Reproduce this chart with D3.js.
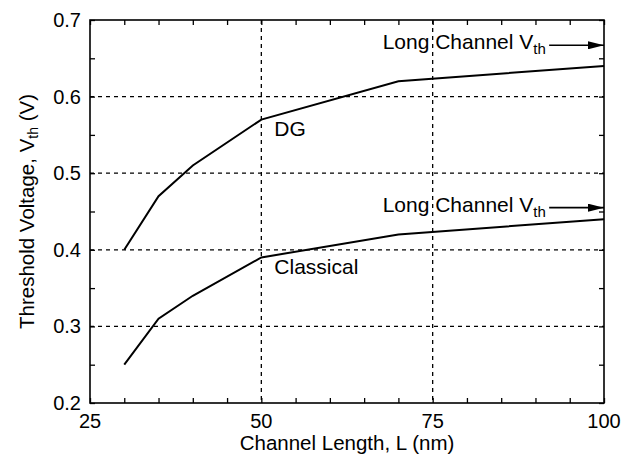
<!DOCTYPE html>
<html>
<head>
<meta charset="utf-8">
<script src="https://cdn.jsdelivr.net/npm/d3@7"></script>
<style>
  body { margin: 0; background: #fff; }
  svg { display: block; font-family: "Liberation Sans", Arial, Helvetica, sans-serif; }
  .frame { fill: none; stroke: #000; stroke-width: 1.6; }
  .grid line { stroke: #000; stroke-width: 1.3; stroke-dasharray: 4,4; }
  .curve { fill: none; stroke: #000; stroke-width: 2; }
  .tick-label { font-size: 20px; }
  .axis-label { font-size: 20.5px; }
  .note { font-size: 21px; }
</style>
</head>
<body>
<div id="chart"></div>
<script>
// channel length (nm)
const lengths = [30, 35, 40, 50, 70, 100];
// threshold voltage (V)
const dgVth = [0.40, 0.47, 0.51, 0.57, 0.62, 0.64];
const classicalVth = [0.25, 0.31, 0.34, 0.39, 0.42, 0.44];
const longChannelVth = [0.667, 0.455];

const xTicks = [25, 50, 75, 100];
const yTicks = [0.2, 0.3, 0.4, 0.5, 0.6, 0.7];
const xGrid = [50, 75];
const yGrid = [0.3, 0.4, 0.5, 0.6];

const W = 634, H = 456;
const margin = {top: 20, left: 90, right: 30, bottom: 53};
const width = W - margin.left - margin.right,
  height = H - margin.top - margin.bottom;

const x = d3.scaleLinear().domain([25, 100]).range([0, width]);
const y = d3.scaleLinear().domain([0.2, 0.7]).range([height, 0]);

let svg = d3.select("#chart").append("svg")
    .attr("width", W)
    .attr("height", H);

svg.append("defs").append("marker")
    .attr("id", "arrow")
    .attr("viewBox", "0 0 16 8")
    .attr("refX", 16).attr("refY", 4)
    .attr("markerWidth", 16).attr("markerHeight", 8)
    .attr("markerUnits", "userSpaceOnUse")
    .attr("orient", "auto")
  .append("path")
    .attr("d", "M0,0 L16,4 L0,8 Z")
    .attr("fill", "#000");

const g = svg.append("g")
    .attr("transform", "translate(" + margin.left + "," + margin.top + ")");

// dashed grid
const grid = g.append("g").attr("class", "grid");
grid.selectAll(".gx").data(xGrid).enter().append("line")
    .attr("x1", d => x(d)).attr("x2", d => x(d))
    .attr("y1", 0).attr("y2", height);
grid.selectAll(".gy").data(yGrid).enter().append("line")
    .attr("x1", 0).attr("x2", width)
    .attr("y1", d => y(d)).attr("y2", d => y(d));

// inward ticks on all four sides
const minorX = d3.range(25, 100.1, 5), minorY = d3.range(0.2, 0.701, 0.05);
g.append("g").call(d3.axisBottom(x).tickValues(minorX).tickSize(-5).tickFormat(""))
    .attr("transform", "translate(0," + height + ")");
g.append("g").call(d3.axisTop(x).tickValues(minorX).tickSize(-5).tickFormat(""));
g.append("g").call(d3.axisLeft(y).tickValues(minorY).tickSize(-5).tickFormat(""));
g.append("g").call(d3.axisRight(y).tickValues(minorY).tickSize(-5).tickFormat(""))
    .attr("transform", "translate(" + width + ",0)");
g.selectAll(".domain").remove();
g.selectAll(".tick line").attr("stroke", "#000").attr("stroke-width", 1.3);

g.append("rect").attr("class", "frame")
    .attr("width", width).attr("height", height);

// tick labels
g.selectAll(".xl").data(xTicks).enter().append("text")
    .attr("class", "tick-label")
    .attr("x", d => x(d)).attr("y", height + 25)
    .attr("text-anchor", "middle")
    .text(d => d);
g.selectAll(".yl").data(yTicks).enter().append("text")
    .attr("class", "tick-label")
    .attr("x", -9).attr("y", d => y(d) + 7)
    .attr("text-anchor", "end")
    .text(d => d.toFixed(1));

// curves
const line = d3.line()
  .x((d, i) => x(lengths[i]))
  .y(d => y(d));
[dgVth, classicalVth].forEach(s => {
  g.append("path").attr("class", "curve").attr("d", line(s));
});

g.append("text").attr("class", "note")
    .attr("x", x(51.9)).attr("y", y(0.57) + 16).text("DG");
g.append("text").attr("class", "note")
    .attr("x", x(51.9)).attr("y", y(0.39) + 17).text("Classical");

// long-channel markers
longChannelVth.forEach(v => {
  const t = g.append("text").attr("class", "note")
      .attr("x", x(67.7)).attr("y", y(v) + 4);
  t.append("tspan").text("Long Channel V");
  t.append("tspan").attr("font-size", 15).attr("dy", 5).text("th");
  g.append("line")
      .attr("x1", x(92)).attr("x2", x(100))
      .attr("y1", y(v)).attr("y2", y(v))
      .attr("stroke", "#000").attr("stroke-width", 1.6)
      .attr("marker-end", "url(#arrow)");
});

// axis titles
svg.append("text").attr("class", "axis-label")
    .attr("x", margin.left + width / 2).attr("y", 450)
    .attr("text-anchor", "middle")
    .text("Channel Length, L (nm)");
const yl = svg.append("text").attr("class", "axis-label")
    .attr("transform", "translate(34," + (margin.top + height / 2) + ") rotate(-90)")
    .attr("text-anchor", "middle");
yl.append("tspan").text("Threshold Voltage, V");
yl.append("tspan").attr("font-size", 14).attr("dy", 4).text("th");
yl.append("tspan").attr("dy", -4).text(" (V)");
</script>
</body>
</html>
